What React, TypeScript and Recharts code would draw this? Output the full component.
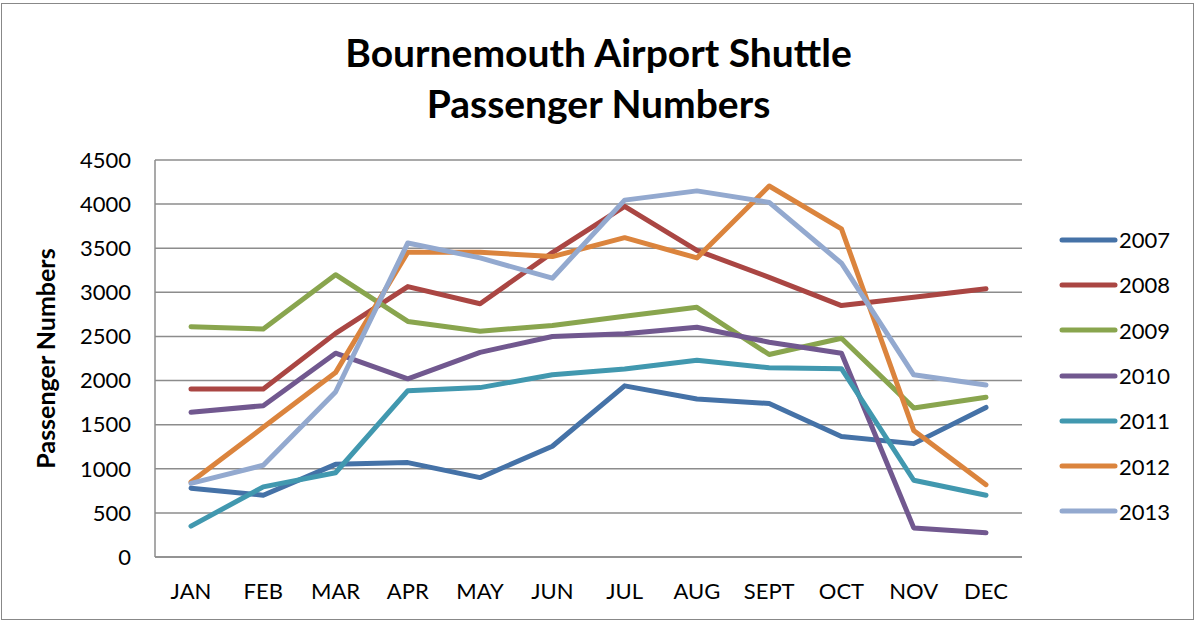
import React from 'react';
import { LineChart, Line, XAxis, YAxis, CartesianGrid } from 'recharts';

const months = ['JAN', 'FEB', 'MAR', 'APR', 'MAY', 'JUN', 'JUL', 'AUG', 'SEPT', 'OCT', 'NOV', 'DEC'];
const y2007 = [780, 700, 1050, 1070, 900, 1255, 1940, 1790, 1740, 1365, 1285, 1695];
const y2008 = [1905, 1905, 2535, 3065, 2870, 3450, 3975, 3475, 3170, 2850, 2945, 3040];
const y2009 = [2610, 2585, 3200, 2670, 2560, 2625, 2730, 2830, 2295, 2480, 1690, 1810];
const y2010 = [1640, 1715, 2310, 2020, 2320, 2500, 2530, 2605, 2435, 2310, 330, 275];
const y2011 = [350, 795, 955, 1885, 1920, 2065, 2130, 2230, 2145, 2135, 870, 700];
const y2012 = [850, 1470, 2090, 3455, 3455, 3405, 3620, 3390, 4205, 3720, 1435, 820];
const y2013 = [835, 1040, 1870, 3560, 3390, 3160, 4045, 4150, 4020, 3330, 2065, 1950];
const yTicks = [0, 500, 1000, 1500, 2000, 2500, 3000, 3500, 4000, 4500];

const seriesNames = ['2007', '2008', '2009', '2010', '2011', '2012', '2013'];
const seriesValues = [y2007, y2008, y2009, y2010, y2011, y2012, y2013];
const colors = ['#4572A7', '#AA4643', '#89A54E', '#71588F', '#4198AF', '#DB843D', '#93A9CF'];

const data = months.map((m, i) => {
  const row: Record<string, string | number> = { month: m };
  seriesNames.forEach((s, k) => {
    row[s] = seriesValues[k][i];
  });
  return row;
});

const FONT = 'Lato, "Open Sans", sans-serif';

export default function App() {
  return (
    <div style={{ position: 'absolute', left: 0, top: 0, width: 1197, height: 623, background: '#fff' }}>
      <div
        style={{
          position: 'absolute',
          left: 1,
          top: 3,
          width: 1193,
          height: 617,
          border: '1px solid #888',
          boxSizing: 'border-box',
        }}
      />
      <div
        style={{
          position: 'absolute',
          left: 0,
          top: 27,
          width: 1197,
          textAlign: 'center',
          fontFamily: FONT,
          fontWeight: 'bold',
          fontSize: 39,
          lineHeight: '51px',
          color: '#000',
        }}
      >
        Bournemouth Airport Shuttle
        <br />
        Passenger Numbers
      </div>
      <div style={{ position: 'absolute', left: 0, top: 0 }}>
        <LineChart
          width={1197}
          height={623}
          data={data}
          margin={{ top: 160, right: 175, bottom: 36, left: 0 }}
        >
          <CartesianGrid vertical={false} stroke="#8c8c8c" strokeWidth={1.5} />
          <XAxis
            dataKey="month"
            height={30}
            padding={{ left: 36, right: 36 }}
            axisLine={{ stroke: '#8c8c8c', strokeWidth: 1.5 }}
            tickLine={false}
            tickMargin={20}
            tick={{ fill: '#000', fontSize: 22, fontFamily: FONT }}
            interval={0}
          />
          <YAxis
            width={155}
            domain={[0, 4500]}
            ticks={yTicks}
            interval={0}
            axisLine={{ stroke: '#8c8c8c', strokeWidth: 1.5 }}
            tickLine={false}
            tickMargin={18}
            tick={{ fill: '#000', fontSize: 22, fontFamily: FONT }}
            label={{
              value: 'Passenger Numbers',
              angle: -90,
              position: 'insideLeft',
              offset: 46,
              style: { textAnchor: 'middle', fill: '#000', fontSize: 25, fontWeight: 'bold', fontFamily: FONT },
            }}
          />
          {seriesNames.map((s, k) => (
            <Line
              key={s}
              type="linear"
              dataKey={s}
              stroke={colors[k]}
              strokeWidth={5}
              strokeLinecap="round"
              strokeLinejoin="round"
              dot={false}
              activeDot={false}
              isAnimationActive={false}
            />
          ))}
        </LineChart>
      </div>
      <div style={{ position: 'absolute', left: 1058, top: 217, width: 135, fontFamily: FONT }}>
        {seriesNames.map((s, k) => (
          <div key={s} style={{ display: 'flex', alignItems: 'center', height: 45.3 }}>
            <svg width={61} height={10} style={{ display: 'block' }}>
              <line x1={4} y1={5} x2={57} y2={5} stroke={colors[k]} strokeWidth={5} strokeLinecap="round" />
            </svg>
            <span style={{ fontSize: 22, color: '#000' }}>{s}</span>
          </div>
        ))}
      </div>
    </div>
  );
}
